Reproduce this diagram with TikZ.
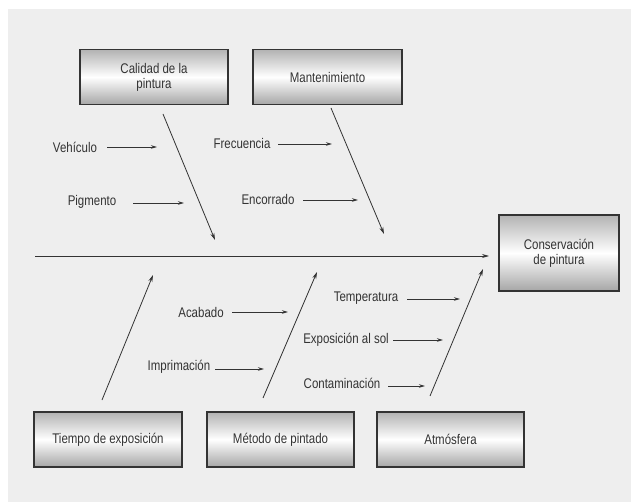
\documentclass[tikz,border=0pt]{standalone}
\usepackage{fontspec}
\setmainfont{Liberation Sans}[FakeStretch=0.82]
\usetikzlibrary{arrows.meta}
\definecolor{paper}{HTML}{EEEEEE}
\definecolor{ink}{HTML}{333333}
\begin{document}
\begin{tikzpicture}[x=1pt,y=-1pt,
  every node/.style={font=\fontsize{14}{15}\selectfont, text=ink},
  catbox/.style={draw=ink, line width=1.3pt, top color=gray!60, bottom color=gray!70,
    middle color=white, align=center, inner sep=0pt},
  rib/.style={draw=ink, line width=0.8pt, -{Stealth[length=7pt,width=4pt]}},
  twig/.style={draw=ink, line width=0.9pt, -{Stealth[length=6pt,width=3.5pt]}},
  cause/.style={inner sep=1pt}]
  \useasboundingbox (0,0) rectangle (631,502);
  \fill[white] (0,0) rectangle (631,502);
  \fill[paper] (8,9) rectangle (631,502);

  % category boxes
  \node[catbox, minimum width=148pt, minimum height=55pt] (calidad) at (154,77) {Calidad de la\\pintura};
  \node[catbox, minimum width=149pt, minimum height=55pt] (manten) at (327.5,77) {Mantenimiento};
  \node[catbox, minimum width=120pt, minimum height=76pt] (efecto) at (559,253) {Conservación\\de pintura};
  \node[catbox, minimum width=148pt, minimum height=55pt] (tiempo) at (108,439.5) {Tiempo de exposición};
  \node[catbox, minimum width=147pt, minimum height=55pt] (metodo) at (280.5,439.5) {Método de pintado};
  \node[catbox, minimum width=147pt, minimum height=55pt] (atmos) at (450.5,439.5) {Atmósfera};

  % spine
  \coordinate (tail) at (35,256);
  \coordinate (head) at (489,256);
  \draw[rib] (tail) -- (head);

  % main ribs
  \coordinate (c1) at (163,114);  \coordinate (c1e) at (215,240);
  \coordinate (m1) at (331,108);  \coordinate (m1e) at (384,234);
  \coordinate (t1) at (102,400);  \coordinate (t1e) at (153,275);
  \coordinate (p1) at (263,398);  \coordinate (p1e) at (317,272);
  \coordinate (a1) at (430,396);  \coordinate (a1e) at (483,269);
  \draw[rib] (c1) -- (c1e);
  \draw[rib] (m1) -- (m1e);
  \draw[rib] (t1) -- (t1e);
  \draw[rib] (p1) -- (p1e);
  \draw[rib] (a1) -- (a1e);

  % causes
  \node[cause] (veh) at (75,147) {Vehículo};
  \node[cause] (pig) at (92,202) {Pigmento};
  \node[cause] (fre) at (242,143) {Frecuencia};
  \node[cause] (enc) at (268,199) {Encorrado};
  \node[cause] (aca) at (201,312) {Acabado};
  \node[cause] (imp) at (179,367) {Imprimación};
  \node[cause] (tem) at (366,298) {Temperatura};
  \node[cause] (exp) at (346,340) {Exposición al sol};
  \node[cause] (con) at (342,383) {Contaminación};

  % cause arrows: start and end points
  \coordinate (veh1) at (107,147);  \coordinate (veh2) at (157,147);
  \coordinate (pig1) at (133,203);  \coordinate (pig2) at (184,203);
  \coordinate (fre1) at (278,144);  \coordinate (fre2) at (332,144);
  \coordinate (enc1) at (303,200);  \coordinate (enc2) at (358,200);
  \coordinate (aca1) at (232,312);  \coordinate (aca2) at (288,312);
  \coordinate (imp1) at (215,369);  \coordinate (imp2) at (264,369);
  \coordinate (tem1) at (407,299);  \coordinate (tem2) at (460,299);
  \coordinate (exp1) at (393,340);  \coordinate (exp2) at (443,340);
  \coordinate (con1) at (388,386);  \coordinate (con2) at (425,386);

  \foreach \c in {veh,pig,fre,enc,aca,imp,tem,exp,con}
    \draw[twig] (\c1) -- (\c2);
\end{tikzpicture}
\end{document}
